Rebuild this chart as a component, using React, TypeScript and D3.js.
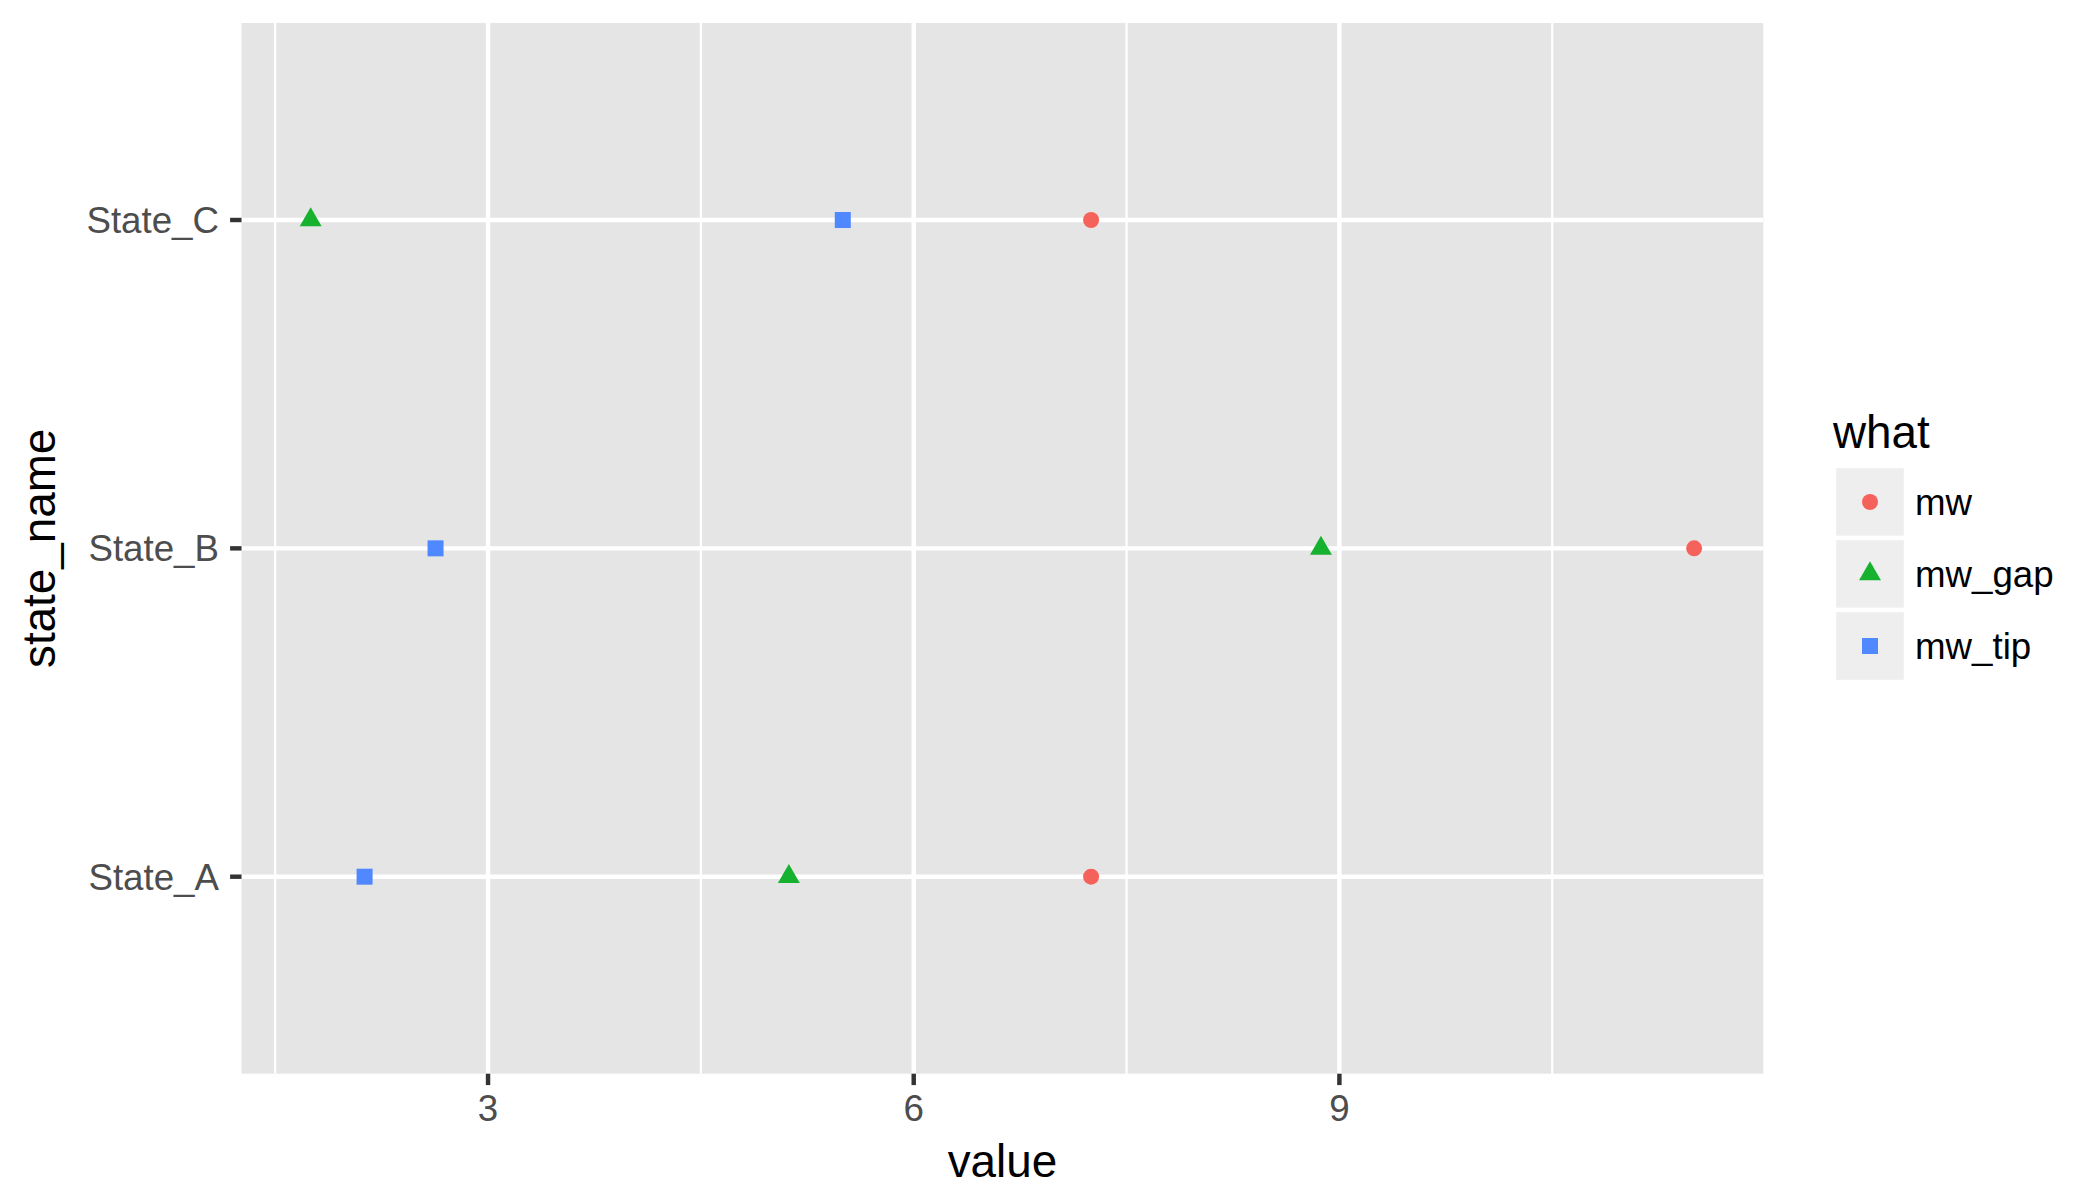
import React from "react";
import * as d3 from "d3";

const states = ["State_A", "State_B", "State_C"];
const series = ["mw", "mw_gap", "mw_tip"];
const mwValues = [7.25, 11.5, 7.25];
const mwGapValues = [5.12, 8.87, 1.75];
const mwTipValues = [2.13, 2.63, 5.5];
const xTicks = [3, 6, 9];
const xMinorTicks = [1.5, 4.5, 7.5, 10.5];
const colors = ["#F5625C", "#16B12E", "#5089FF"];

const W = 2099;
const H = 1200;
const panel = { left: 241.5, right: 1763.3, top: 23, bottom: 1073.7 };
const FONT = "'Liberation Sans', Arial, Helvetica, sans-serif";
const axisTextSize = 36.7;
const titleSize = 45.8;

function Marker({ kind, x, y, color }: { kind: string; x: number; y: number; color: string }) {
  if (kind === "mw") return <circle cx={x} cy={y} r={8} fill={color} />;
  if (kind === "mw_gap") {
    const hb = 10.96, up = 12.66, dn = 6.33;
    return <polygon points={`${x},${y - up} ${x + hb},${y + dn} ${x - hb},${y + dn}`} fill={color} />;
  }
  return <rect x={x - 8} y={y - 8} width={16} height={16} fill={color} />;
}

export default function App() {
  const all = [...mwValues, ...mwGapValues, ...mwTipValues];
  const mn = d3.min(all) as number;
  const mx = d3.max(all) as number;
  const pad = (mx - mn) * 0.05;
  const x = d3.scaleLinear().domain([mn - pad, mx + pad]).range([panel.left, panel.right]);
  const y = d3.scalePoint<string>().domain(states).range([panel.bottom, panel.top]).padding(0.6);

  const seriesValues = [mwValues, mwGapValues, mwTipValues];
  const points: { kind: string; x: number; y: number; color: string }[] = [];
  series.forEach((s, si) => {
    states.forEach((st, i) => {
      points.push({ kind: s, x: x(seriesValues[si][i]), y: y(st) as number, color: colors[si] });
    });
  });

  const keyLeft = 1834;
  const keyTop = 466;
  const keySize = 72;

  return (
    <svg width={W} height={H} style={{ position: "absolute", left: 0, top: 0, background: "#fff" }} fontFamily={FONT}>
      <rect x={0} y={0} width={W} height={H} fill="#ffffff" />
      <rect x={panel.left} y={panel.top} width={panel.right - panel.left} height={panel.bottom - panel.top} fill="#E5E5E5" />
      {xMinorTicks.map((t) => (
        <line key={"mn" + t} x1={x(t)} x2={x(t)} y1={panel.top} y2={panel.bottom} stroke="#fff" strokeWidth={2.22} />
      ))}
      {xTicks.map((t) => (
        <line key={"mj" + t} x1={x(t)} x2={x(t)} y1={panel.top} y2={panel.bottom} stroke="#fff" strokeWidth={4.44} />
      ))}
      {states.map((s) => (
        <line key={"h" + s} x1={panel.left} x2={panel.right} y1={y(s)} y2={y(s)} stroke="#fff" strokeWidth={4.44} />
      ))}
      {points.map((p, i) => (
        <Marker key={i} {...p} />
      ))}
      {xTicks.map((t) => (
        <g key={"xt" + t}>
          <line x1={x(t)} x2={x(t)} y1={panel.bottom} y2={panel.bottom + 11.4} stroke="#333333" strokeWidth={4.44} />
          <text x={x(t)} y={1121} textAnchor="middle" fontSize={axisTextSize} fill="#4D4D4D">
            {t}
          </text>
        </g>
      ))}
      {states.map((s) => (
        <g key={"yt" + s}>
          <line x1={panel.left - 11.4} x2={panel.left} y1={y(s)} y2={y(s)} stroke="#333333" strokeWidth={4.44} />
          <text x={219} y={(y(s) as number) + 13} textAnchor="end" fontSize={axisTextSize} fill="#4D4D4D">
            {s}
          </text>
        </g>
      ))}
      <text x={(panel.left + panel.right) / 2} y={1177} textAnchor="middle" fontSize={titleSize} fill="#000">
        value
      </text>
      <text
        transform={`translate(55,${(panel.top + panel.bottom) / 2}) rotate(-90)`}
        textAnchor="middle"
        fontSize={titleSize}
        fill="#000"
      >
        state_name
      </text>
      <text x={1833} y={448} fontSize={titleSize} fill="#000">
        what
      </text>
      {series.map((s, i) => {
        const top = keyTop + i * keySize;
        return (
          <g key={"lg" + s}>
            <rect x={keyLeft} y={top} width={keySize} height={keySize} fill="#EEEEEE" stroke="#fff" strokeWidth={4.44} />
            <Marker kind={s} x={keyLeft + keySize / 2} y={top + keySize / 2} color={colors[i]} />
            <text x={1915} y={top + keySize / 2 + 13} fontSize={axisTextSize} fill="#000">
              {s}
            </text>
          </g>
        );
      })}
    </svg>
  );
}
